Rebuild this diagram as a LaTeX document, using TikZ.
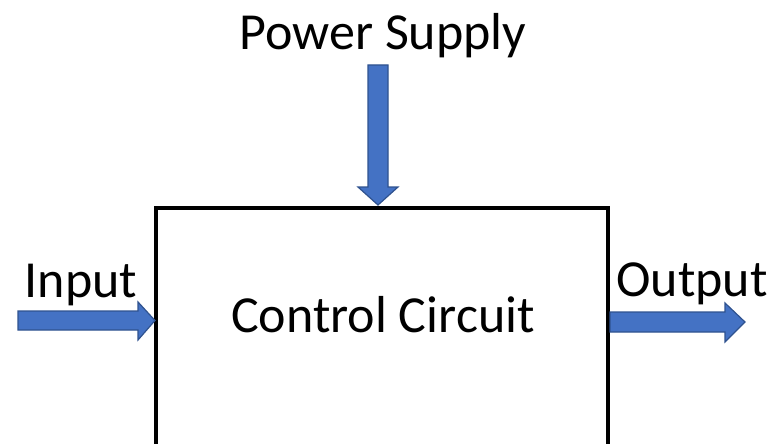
\documentclass[tikz,border=0pt]{standalone}
\usepackage{fontspec}
\setmainfont{Carlito}
\definecolor{arrfill}{HTML}{4472C4}
\definecolor{arrline}{HTML}{2F528F}
\begin{document}
\begin{tikzpicture}[x=1pt,y=-1pt,
  blockarrow/.style={fill=arrfill,draw=arrline,line width=1.2pt,line join=miter},
  lbl/.style={font=\fontsize{52}{60}\selectfont,inner sep=0pt,anchor=base}]
\useasboundingbox (0,0) rectangle (774,444);
\clip (0,0) rectangle (774,444);
\fill[white] (0,0) rectangle (774,444);
% box
\coordinate (tl) at (156,208);
\coordinate (br) at (608,470);
\draw[line width=4pt] (tl) rectangle (br);
\node[lbl] (cc) at (383,332) {Control Circuit};
% labels
\node[lbl] (ps) at (383,50) {Power Supply};
\node[lbl] (in) at (81,297) {Input};
\node[lbl] (out) at (692,296) {Output};
% input arrow
\draw[blockarrow] (18,311) -- (138,311) -- (138,302) -- (155,320.5) -- (138,340) -- (138,330) -- (18,330) -- cycle;
% output arrow
\draw[blockarrow] (610,312) -- (725,312) -- (725,303) -- (745,322) -- (725,342) -- (725,332) -- (610,332) -- cycle;
% power arrow
\draw[blockarrow] (368,65) -- (388,65) -- (388,187) -- (398,187) -- (378,205) -- (358,187) -- (368,187) -- cycle;
\end{tikzpicture}
\end{document}
